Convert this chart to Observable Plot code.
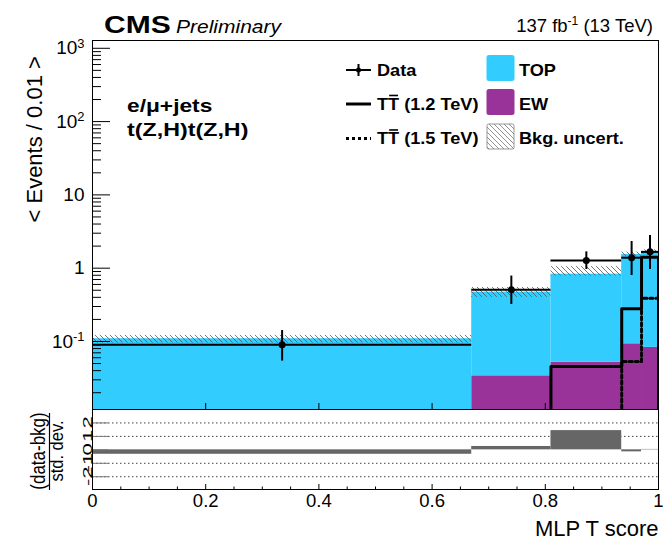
<!DOCTYPE html>
<html>
<head>
<meta charset="utf-8">
<script src="https://cdn.jsdelivr.net/npm/d3@7"></script>
<script src="https://cdn.jsdelivr.net/npm/@observablehq/plot@0.6"></script>
<style>
  body { margin: 0; background: #fff; }
  #chart { position: relative; width: 672px; height: 545px; background: #fff; }
  #chart svg { position: absolute; left: 0; }
</style>
</head>
<body>
<div id="chart"></div>
<script>
// Histogram bin edges of the MLP T score
const binEdges = [0, 0.67, 0.81, 0.935, 0.97, 1.0];
// Background predictions (events / 0.01), stacked EW then TOP
const ewYield = [0.006, 0.034, 0.052, 0.093, 0.083];
const topYield = [0.103, 0.437, 0.776, 1.447, 1.567];
// Total background uncertainty band: lower and upper edge
const bkgUncLow = [0.095, 0.40, 0.78, 1.45, 1.56];
const bkgUncHigh = [0.121, 0.545, 1.05, 1.66, 1.78];
// Observed data and its error bar ends
const dataYield = [0.090, 0.508, 1.27, 1.39, 1.67];
const dataErrLow = [0.054, 0.32, 0.96, 0.795, 0.96];
const dataErrHigh = [0.141, 0.78, 1.67, 2.31, 2.79];
// T Tbar signal hypotheses (0 = empty bin)
const sigTT1200 = [0, 0, 0.0456, 0.279, 1.41];
const sigTT1500 = [0, 0, 0, 0.0533, 0.39];
// (data - bkg) / std. dev. per bin
const pull = [-0.33, 0.25, 1.43, -0.15, 0.03];

// Axis ticks and labels
const yMajorTicks = [0.1, 1, 10, 100, 1000];
const yMajorLabels = ["10^-1", "1", "10", "10^2", "10^3"];
const xMajorTicks = [0, 0.2, 0.4, 0.6, 0.8, 1];
const xTickLabels = ["0", "0.2", "0.4", "0.6", "0.8", "1"];
const pullTicks = [-2, -1, 0, 1, 2];
const pullTickLabels = ["-2", "-1", "0", "1", "2"];
const pullGrid = [-2, -1, 1, 2];

// Legend entries (U+0304 puts a bar over the preceding letter)
const legendEntries = [
  {label: "Data", key: "data"},
  {label: "TOP", key: "top"},
  {label: "TT\u0304 (1.2 TeV)", key: "sig1200"},
  {label: "EW", key: "ew"},
  {label: "TT\u0304 (1.5 TeV)", key: "sig1500"},
  {label: "Bkg. uncert.", key: "unc"}
];

const FONT = "'Liberation Sans', Arial, Helvetica, sans-serif";
const TOP_COLOR = "#33ccff";
const EW_COLOR = "#993399";
const yDomain = [0.0118, 1277];
const FLOOR = 0.004; // below the visible range, clipped away
const RATIO_TOP = 400; // vertical offset of the pull pad

const bins = binEdges.slice(0, -1).map((x0, i) => ({
  x0, x1: binEdges[i + 1], xc: (x0 + binEdges[i + 1]) / 2,
  ew: ewYield[i], tot: ewYield[i] + topYield[i],
  lo: bkgUncLow[i], hi: bkgUncHigh[i],
  data: dataYield[i], dlo: dataErrLow[i], dhi: dataErrHigh[i],
  pull: pull[i]
}));

// Histogram outline for a signal: rises from the floor at its first filled bin
function steps(values) {
  const pts = [];
  values.forEach((v, i) => {
    if (!(v > 0)) return;
    if (!pts.length) pts.push({x: binEdges[i], y: FLOOR});
    pts.push({x: binEdges[i], y: v}, {x: binEdges[i + 1], y: v});
  });
  pts.push({x: pts[pts.length - 1].x, y: FLOOR});
  return pts;
}

// Minor log ticks 2..9 per decade
const yMinorTicks = [];
for (let e = -2; e <= 3; e++) for (let k = 2; k <= 9; k++) {
  const v = k * Math.pow(10, e);
  if (v > yDomain[0] && v < yDomain[1]) yMinorTicks.push(v);
}
const xMinorTicks = d3.range(0, 21).map(i => i * 0.05).filter(v => !xMajorTicks.some(t => Math.abs(t - v) < 1e-9));

const yLabelOf = new Map(yMajorTicks.map((t, i) => [t, yMajorLabels[i]]));
const xLabelOf = new Map(xMajorTicks.map((t, i) => [t, xTickLabels[i]]));
const blank = () => "";

const main = Plot.plot({
  width: 672, height: 410,
  marginLeft: 92, marginRight: 14, marginTop: 40, marginBottom: 1,
  style: {fontFamily: FONT, fontSize: "19px", background: "transparent", overflow: "visible", color: "black"},
  x: {domain: [0, 1], label: null},
  y: {type: "log", domain: yDomain, label: null},
  marks: [
    Plot.rect(bins, {x1: "x0", x2: "x1", y1: yDomain[0], y2: "ew", fill: EW_COLOR, clip: true}),
    Plot.rect(bins, {x1: "x0", x2: "x1", y1: "ew", y2: "tot", fill: TOP_COLOR, clip: true}),
    Plot.rect(bins, {x1: "x0", x2: "x1", y1: "lo", y2: "hi", fill: "url(#bkgHatch)", clip: true}),
    Plot.line(steps(sigTT1200), {x: "x", y: "y", stroke: "black", strokeWidth: 3, clip: true}),
    Plot.line(steps(sigTT1500), {x: "x", y: "y", stroke: "black", strokeWidth: 3, strokeDasharray: "3,3", clip: true}),
    Plot.ruleY(bins, {x1: "x0", x2: "x1", y: "data", stroke: "black", strokeWidth: 2}),
    Plot.ruleX(bins, {x: "xc", y1: "dlo", y2: "dhi", stroke: "black", strokeWidth: 2}),
    Plot.dot(bins, {x: "xc", y: "data", r: 3.5, fill: "black", stroke: null}),
    Plot.axisY(yMinorTicks, {tickSize: -9, tickFormat: blank, label: null}),
    Plot.axisY(yMajorTicks, {tickSize: -18, tickFormat: blank, label: null}),
    Plot.axisY(yMajorTicks, {tickSize: 0, tickPadding: 8, tickFormat: d => yLabelOf.get(d), fontSize: 19, label: null}),
    Plot.axisX(xMajorTicks, {anchor: "bottom", tickSize: -6, tickFormat: blank, label: null}),
    Plot.frame({stroke: "black"}),
    Plot.text(["< Events / 0.01 >"], {frameAnchor: "left", rotate: -90, dx: -57.5, dy: -2.5, fontSize: 22})
  ]
});

// Hatch pattern for the background uncertainty
const mainSel = d3.select(main);
const defs = mainSel.insert("defs", ":first-child");
const hatch = defs.append("pattern").attr("id", "bkgHatch")
  .attr("patternUnits", "userSpaceOnUse").attr("width", 5).attr("height", 5);
hatch.append("path").attr("d", "M0,0L5,5M-1,4L1,6M4,-1L6,1")
  .attr("stroke", "#555").attr("stroke-width", 0.8).attr("fill", "none");

// Superscript exponents on the log axis labels
mainSel.selectAll("text").each(function () {
  const t = this.textContent;
  if (!t.includes("^")) return;
  const [base, exp] = t.split("^");
  const s = d3.select(this);
  s.text(null);
  s.append("tspan").text(base);
  s.append("tspan").attr("dy", "-0.5em").attr("font-size", "0.68em").text(exp);
});

const ratio = Plot.plot({
  width: 672, height: 145,
  marginLeft: 92, marginRight: 14, marginTop: 9, marginBottom: 56,
  style: {fontFamily: FONT, fontSize: "18.5px", background: "transparent", overflow: "visible", color: "black"},
  x: {domain: [0, 1], label: null},
  y: {domain: [-2.95, 3], label: null},
  marks: [
    Plot.ruleY(pullGrid, {stroke: "#444", strokeDasharray: "1.5,2.5"}),
    Plot.rect(bins, {x1: "x0", x2: "x1", y1: 0, y2: "pull", fill: "#666666"}),
    Plot.axisY(pullTicks, {tickSize: -16, tickFormat: blank, stroke: "#777", label: null}),
    Plot.axisX(xMinorTicks, {tickSize: -2.5, tickFormat: blank, label: null}),
    Plot.axisX(xMajorTicks, {tickSize: -5, tickFormat: blank, label: null}),
    Plot.axisX(xMajorTicks, {tickSize: 0, tickPadding: 4, tickFormat: d => xLabelOf.get(d), fontSize: 18.5, label: null}),
    Plot.frame({stroke: "black"}),
    Plot.text(["MLP T score"], {frameAnchor: "bottom-right", dy: 39, lineAnchor: "middle", textAnchor: "end", fontSize: 22})
  ]
});

const chart = d3.select("#chart");
chart.node().appendChild(main);
d3.select(main).style("top", "0px");
chart.node().appendChild(ratio);
d3.select(ratio).style("top", RATIO_TOP + "px");

// Overlay: header, labels, legend
const ov = chart.append("svg").attr("width", 672).attr("height", 545)
  .style("top", "0px").style("pointer-events", "none")
  .attr("font-family", FONT);
const ovDefs = ov.append("defs");
const lh = ovDefs.append("pattern").attr("id", "legHatch")
  .attr("patternUnits", "userSpaceOnUse").attr("width", 5).attr("height", 5);
lh.append("path").attr("d", "M0,0L5,5M-1,4L1,6M4,-1L6,1")
  .attr("stroke", "#777").attr("stroke-width", 0.8).attr("fill", "none");

// Text with optional stretch along (sx) and across (sy) its reading direction
function label(parent, {x, y, text, size, weight = "normal", style = "normal", sx = 1, sy = 1, rotate = 0, anchor = "start", dy = null, fill = "black"}) {
  const g = parent.append("g").attr("transform", `translate(${x},${y}) rotate(${rotate}) scale(${sx},${sy})`);
  const t = g.append("text").attr("font-size", size).attr("font-weight", weight)
    .attr("font-style", style).attr("text-anchor", anchor).attr("dy", dy).attr("fill", fill);
  const bar = text.indexOf("\u0304");
  if (bar < 0) {
    t.text(text);
  } else {
    const plain = text.replace("\u0304", "");
    t.text(plain);
    const ext = t.node().getExtentOfChar(bar - 1);
    g.append("line").attr("x1", ext.x + 1).attr("x2", ext.x + ext.width - 1)
      .attr("y1", ext.y + 1.2).attr("y2", ext.y + 1.2)
      .attr("stroke", "black").attr("stroke-width", 1.6);
  }
  return t;
}

// Header
label(ov, {x: 104, y: 33, text: "CMS", size: 24, weight: "bold", sx: 1.25});
label(ov, {x: 176, y: 33, text: "Preliminary", size: 18.6, style: "italic", sx: 1.13});
const lumi = ov.append("text").attr("x", 653).attr("y", 32).attr("text-anchor", "end").attr("font-size", 18.5);
lumi.append("tspan").text("137 fb");
lumi.append("tspan").attr("dy", -7).attr("font-size", 12).text("-1");
lumi.append("tspan").attr("dy", 7).text(" (13 TeV)");

// Channel labels
label(ov, {x: 127, y: 112, text: "e/\u03bc+jets", size: 17.5, weight: "bold", sx: 1.3});
label(ov, {x: 127, y: 136, text: "t(Z,H)t(Z,H)", size: 17.5, weight: "bold", sx: 1.33});

// Pull pad: rotated tick labels placed through the pad's own y scale
const yPull = ratio.scale("y");
pullTicks.forEach((t, i) => {
  label(ov, {x: 87, y: RATIO_TOP + yPull.apply(t), text: pullTickLabels[i], size: 13, sx: 1.7,
    rotate: -90, anchor: "middle", dy: "0.35em"});
});

// Pull pad title as a fraction
label(ov, {x: 45, y: 451, text: "(data-bkg)", size: 17, sy: 1.15, rotate: -90, anchor: "middle"});
label(ov, {x: 63, y: 451, text: "std. dev.", size: 16.5, sy: 1.1, rotate: -90, anchor: "middle"});
ov.append("line").attr("x1", 49.5).attr("x2", 49.5).attr("y1", 413).attr("y2", 490)
  .attr("stroke", "black").attr("stroke-width", 1.2);

// Legend
const colX = [346, 487];
const rowY = [68, 102, 136.5];
legendEntries.forEach((e, i) => {
  const x = colX[i % 2], cy = rowY[Math.floor(i / 2)];
  const ly = cy + 2;
  if (e.key === "data") {
    ov.append("line").attr("x1", x).attr("x2", x + 25).attr("y1", ly).attr("y2", ly).attr("stroke", "black").attr("stroke-width", 2);
    ov.append("line").attr("x1", x + 12.5).attr("x2", x + 12.5).attr("y1", ly - 6).attr("y2", ly + 6).attr("stroke", "black").attr("stroke-width", 2);
    ov.append("circle").attr("cx", x + 12.5).attr("cy", ly).attr("r", 2.5).attr("fill", "black");
  } else if (e.key === "sig1200" || e.key === "sig1500") {
    ov.append("line").attr("x1", x).attr("x2", x + 25).attr("y1", ly).attr("y2", ly)
      .attr("stroke", "black").attr("stroke-width", 3)
      .attr("stroke-dasharray", e.key === "sig1500" ? "3,3" : null);
  } else {
    const fill = e.key === "top" ? TOP_COLOR : e.key === "ew" ? EW_COLOR : "url(#legHatch)";
    ov.append("rect").attr("x", x).attr("y", cy - 12.5).attr("width", 27).attr("height", 25)
      .attr("rx", 1.5).attr("fill", e.key === "unc" ? "white" : fill)
      .attr("stroke", e.key === "unc" ? "#999" : fill).attr("stroke-width", 1);
    if (e.key === "unc") {
      ov.append("rect").attr("x", x).attr("y", cy - 12.5).attr("width", 27).attr("height", 25).attr("fill", fill);
    }
  }
  label(ov, {x: x + (i % 2 ? 32 : 31), y: cy + 7.5, text: e.label, size: 16.5, weight: "bold", sx: 1.1});
});
</script>
</body>
</html>
